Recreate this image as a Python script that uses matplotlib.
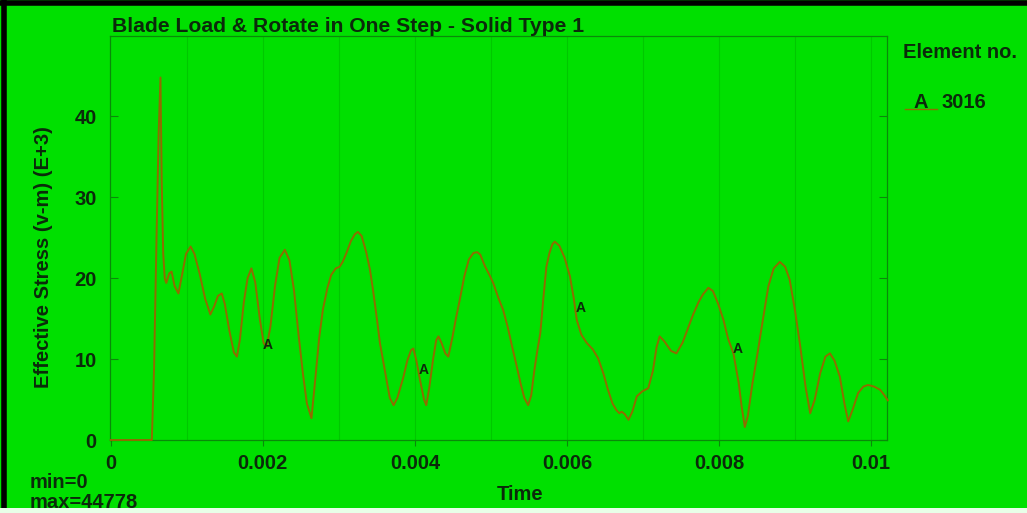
import matplotlib
matplotlib.use("Agg")
import matplotlib.pyplot as plt

# ---- data (time in s, effective stress in E+3) ----
time = [0.0, 0.00054, 0.00057, 0.00060, 0.00063, 0.000654, 0.00067, 0.00069, 0.00071, 0.00073,
        0.00077, 0.00080, 0.00084, 0.00089, 0.00094, 0.00099, 0.00105, 0.00110, 0.00117, 0.00124,
        0.00131, 0.00136, 0.00141, 0.00146, 0.00150, 0.00156, 0.00162, 0.00166, 0.00170, 0.00175,
        0.00180, 0.00185, 0.00190, 0.00196, 0.00201, 0.00205, 0.00210, 0.00216, 0.00222, 0.00229,
        0.00235, 0.00241, 0.00247, 0.00253, 0.00258, 0.00264, 0.00269, 0.00274, 0.00279, 0.00285,
        0.00290, 0.00296, 0.00301, 0.00305, 0.00310, 0.00316, 0.00321, 0.00325, 0.00330, 0.00336,
        0.00341, 0.00345, 0.00350, 0.00354, 0.00358, 0.00363, 0.00367, 0.00372, 0.00377, 0.00381,
        0.00385, 0.00390, 0.00395, 0.00398, 0.00402, 0.00407, 0.00412, 0.00415, 0.00419, 0.00424,
        0.00428, 0.00431, 0.00435, 0.00440, 0.00444, 0.00449, 0.00454, 0.00459, 0.00465, 0.00471,
        0.00477, 0.00482, 0.00486, 0.00492, 0.00498, 0.00503, 0.00510, 0.00516, 0.00522, 0.00528,
        0.00534, 0.00539, 0.00544, 0.00549, 0.00553, 0.00557, 0.00561, 0.00565, 0.00569, 0.00573,
        0.00577, 0.00581, 0.00584, 0.00590, 0.00597, 0.00604, 0.00609, 0.00613, 0.00619, 0.00626,
        0.00634, 0.00641, 0.00648, 0.00654, 0.00660, 0.00665, 0.00669, 0.00672, 0.00676, 0.00681,
        0.00686, 0.00692, 0.00699, 0.00707, 0.00713, 0.00718, 0.00722, 0.00728, 0.00737, 0.00744,
        0.00752, 0.00760, 0.00766, 0.00773, 0.00779, 0.00786, 0.00792, 0.00799, 0.00806, 0.00812,
        0.00819, 0.00826, 0.00830, 0.00834, 0.00838, 0.00844, 0.00850, 0.00858, 0.00865, 0.00872,
        0.00880, 0.00887, 0.00893, 0.00900, 0.00907, 0.00914, 0.00920, 0.00926, 0.00933, 0.00940,
        0.00946, 0.00952, 0.00959, 0.00965, 0.00970, 0.00976, 0.00983, 0.00990, 0.00996, 0.01004,
        0.01012, 0.01017, 0.01022]
stress = [0.0, 0.0, 9.0, 24.0, 38.0, 44.778, 32.0, 23.0, 20.0, 19.4,
          20.6, 20.8, 19.0, 18.1, 20.5, 23.0, 23.9, 23.0, 20.5, 17.5,
          15.5, 16.5, 17.8, 18.1, 16.8, 13.5, 10.8, 10.3, 12.5, 17.0,
          20.0, 21.2, 19.5, 15.0, 12.0, 11.5, 14.0, 19.0, 22.5, 23.5,
          22.2, 18.5, 13.0, 8.0, 4.5, 2.7, 7.5, 12.5, 16.1, 18.8,
          20.4, 21.2, 21.4, 22.0, 23.1, 24.6, 25.4, 25.7, 25.2, 23.2,
          21.0, 18.5, 15.0, 12.0, 9.9, 7.2, 5.2, 4.3, 5.2, 6.5,
          7.8, 9.8, 11.1, 11.3, 9.8, 7.3, 5.0, 4.3, 6.5, 10.0,
          12.3, 12.8, 12.0, 10.7, 10.3, 12.5, 15.0, 17.3, 20.2, 22.3,
          23.1, 23.2, 22.9, 21.5, 20.4, 19.4, 17.5, 16.1, 14.0, 11.5,
          9.1, 7.0, 5.2, 4.3, 5.5, 8.5, 11.0, 13.2, 17.5, 21.4,
          23.1, 24.2, 24.5, 24.0, 22.5, 20.2, 17.5, 14.8, 13.0, 12.0,
          11.2, 10.1, 8.2, 6.2, 4.5, 3.7, 3.3, 3.5, 3.2, 2.5,
          3.5, 5.4, 6.0, 6.4, 8.5, 11.5, 12.8, 12.2, 11.0, 10.7,
          12.0, 14.0, 15.5, 17.0, 18.0, 18.8, 18.4, 16.8, 14.8, 12.5,
          10.7, 7.0, 4.0, 1.6, 3.0, 7.0, 10.3, 15.0, 19.0, 21.2,
          22.0, 21.4, 19.8, 16.0, 11.5, 6.5, 3.3, 5.0, 8.2, 10.3,
          10.7, 9.8, 7.8, 4.5, 2.3, 3.8, 5.8, 6.6, 6.8, 6.6,
          6.2, 5.6, 4.9]

marker_time = [0.00207, 0.00412, 0.00618, 0.00825]
marker_stress = [11.7, 8.7, 16.3, 11.2]

x_ticks = [0, 0.002, 0.004, 0.006, 0.008, 0.01]
x_tick_labels = ["0", "0.002", "0.004", "0.006", "0.008", "0.01"]
y_ticks = [0, 10, 20, 30, 40]
y_tick_labels = ["0", "10", "20", "30", "40"]
grid_x = [0.001, 0.002, 0.003, 0.004, 0.005, 0.006, 0.007, 0.008, 0.009, 0.01]

BG = "#00e000"
LINE = "#8f6c00"
TXT = "#0b2a0b"
AXC = "#0a8a0a"
FS = 14.5

plt.rcParams['font.family'] = ['Liberation Sans', 'DejaVu Sans']
plt.rcParams['font.weight'] = 'bold'

fig = plt.figure(figsize=(10.27, 5.13), dpi=100)
fig.patch.set_facecolor(BG)

ax = fig.add_axes([110/1027, 1-440/513, (887-110)/1027, (440-36)/513])
ax.set_facecolor(BG)
ax.set_xlim(-0.00001, 0.01021)
ax.set_ylim(0, 49.9)

for g in grid_x:
    ax.axvline(g, color="#00c800", lw=0.8, zorder=0)

ax.plot(time, stress, color=LINE, lw=1.4, zorder=3, clip_on=False)
for t, s in zip(marker_time, marker_stress):
    ax.text(t, s, "A", color=TXT, fontsize=10, fontweight='bold', ha='center', va='center', zorder=4)

for sp in ax.spines.values():
    sp.set_color(AXC)
    sp.set_linewidth(0.9)

ax.set_xticks(x_ticks)
ax.set_xticklabels(x_tick_labels)
ax.set_yticks(y_ticks)
ax.set_yticklabels(y_tick_labels)
ax.tick_params(axis='x', direction='out', length=4, color=AXC, labelcolor=TXT, labelsize=FS, pad=6)
ax.tick_params(axis='y', direction='in', length=6, color=AXC, labelcolor=TXT, labelsize=FS, pad=9.5,
               right=True)
for lab in ax.get_xticklabels() + ax.get_yticklabels():
    lab.set_fontweight('bold')

ax.set_ylabel("Effective Stress (v-m) (E+3)", color=TXT, fontsize=FS, fontweight='bold')
ax.yaxis.set_label_coords(-0.073, 0.453)
fig.text(520/1027, 1-495/513, "Time", color=TXT, fontsize=FS, fontweight='bold', ha='center', va='center')

fig.text(112/1027, 1-27/513, "Blade Load & Rotate in One Step - Solid Type 1", color=TXT,
         fontsize=15.2, fontweight='bold', ha='left', va='center')
fig.text(903/1027, 1-53/513, "Element no.", color=TXT, fontsize=FS, fontweight='bold', ha='left', va='center')
fig.text(913/1027, 1-102/513, "A", color=TXT, fontsize=FS, fontweight='bold', ha='left', va='center')
fig.text(942/1027, 1-102/513, "3016", color=TXT, fontsize=FS, fontweight='bold', ha='left', va='center')
fig.lines.append(plt.Line2D([905/1027, 937/1027], [1-109/513, 1-109/513], transform=fig.transFigure,
                            color=LINE, lw=1.0))
fig.text(30/1027, 1-482/513, "min=0", color=TXT, fontsize=FS, fontweight='bold', ha='left', va='center')
fig.text(30/1027, 1-503/513, "max=44778", color=TXT, fontsize=FS, fontweight='bold', ha='left', va='center')

# border frame
fig.patches.append(plt.Rectangle((0, 0), 1, 5/513, transform=fig.transFigure, facecolor="#e8ffe8",
                                 edgecolor='none', zorder=5))
fig.lines.append(plt.Line2D([4/1027, 4/1027], [5/513, 1], transform=fig.transFigure, color='black', lw=4))
fig.lines.append(plt.Line2D([0, 1], [1-2.5/513, 1-2.5/513], transform=fig.transFigure, color='black', lw=4))

fig.savefig("out.png", dpi=100, facecolor=BG)
